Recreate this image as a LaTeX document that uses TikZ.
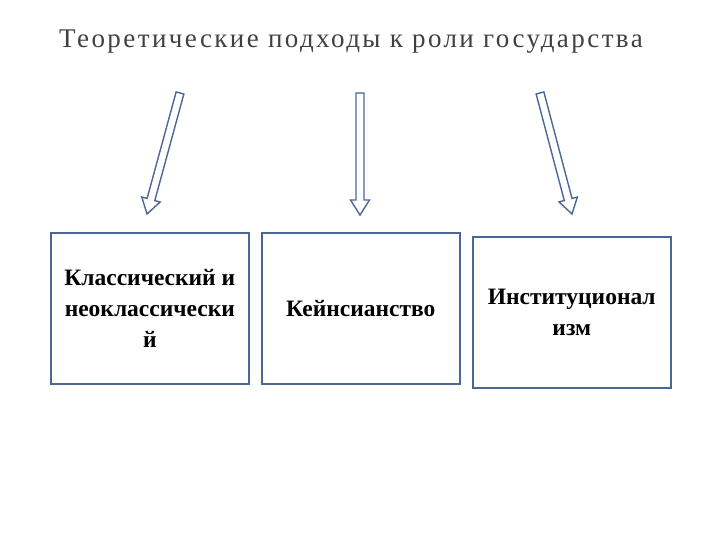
\documentclass[tikz,border=0pt]{standalone}
\usepackage{fontspec}
\setmainfont{Liberation Serif}
\usetikzlibrary{calc}
\definecolor{bl}{HTML}{4A6795}
\tikzset{
 boxn/.style={draw=bl,line width=1.6pt,minimum width=198pt,minimum height=151pt,anchor=north west,align=center,font=\fontsize{23.5}{31}\selectfont\bfseries,inner sep=2pt},
 harrow/.style={draw=bl,line width=1.4pt,fill=white,line join=miter}
}
\newcommand{\blockarrow}[2]{%
 \coordinate (h) at ($(#2)!15pt!(#1)$);
 \draw[harrow] ($(#1)!4pt!-90:(#2)$) -- ($(h)!4pt!-90:(#2)$) -- ($(h)!9.5pt!-90:(#2)$) -- (#2) -- ($(h)!9.5pt!90:(#2)$) -- ($(h)!4pt!90:(#2)$) -- ($(#1)!4pt!90:(#2)$) -- cycle;}
\begin{document}
\begin{tikzpicture}[x=1pt,y=-1pt]
\useasboundingbox (0,0) rectangle (720,540);
\node[text=black!75,font=\fontsize{27}{30}\selectfont,inner sep=0] (title) at (351,42) {\addfontfeature{LetterSpace=9}Теоретические подходы к роли государства};
\coordinate (a1) at (180,93); \coordinate (b1) at (147,214);
\coordinate (a2) at (360,93); \coordinate (b2) at (360,215);
\coordinate (a3) at (540,93); \coordinate (b3) at (572,214);
\blockarrow{a1}{b1}
\blockarrow{a2}{b2}
\blockarrow{a3}{b3}
\node[boxn] (k) at (50,232) {Классический и\\неоклассически\\й};
\node[boxn] (m) at (261,232) {Кейнсианство};
\node[boxn] (i) at (472,236) {Институционал\\изм};
\end{tikzpicture}
\end{document}
